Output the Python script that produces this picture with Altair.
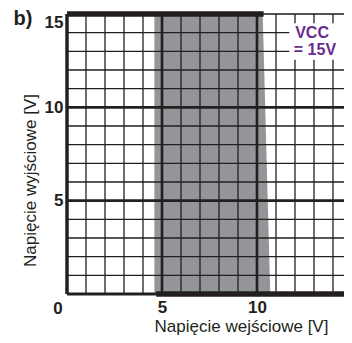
import altair as alt
import pandas as pd

# ---- data ----
x_ticks = [5, 10, 15]
y_ticks = [5, 10, 15]
minor_lines = [1, 2, 3, 4, 6, 7, 8, 9, 11, 12, 13, 14, 15]
major_lines = [5, 10]

band_y = [0, 15]
band_left = [4.6, 4.6]
band_right = [10.7, 10.3]

# thick output segments (hysteresis): high level and low level
seg_x1 = [0, 4.7]
seg_x2 = [10.35, 15]
seg_y = [15, 0]

label_lines = ["VCC", "= 15V"]
label_x = [12.9, 13.05]
label_y = [14.0, 13.05]
box_x = [11.7]
box_x2 = [14.75]
box_y = [12.55]
box_y2 = [14.5]

# plot area: 19 px per volt horizontally; page is cut at the right edge
W, H = 277, 280
xs = alt.Scale(domain=[0, 14.58], nice=False, zero=False)
ys = alt.Scale(domain=[0, 15], nice=False, zero=False)
INK = "#231f20"
FONT = "Liberation Sans"

band = alt.Chart(pd.DataFrame({"y": band_y, "l": band_left, "r": band_right})).mark_area(
    orient="horizontal", color="#939598", opacity=1
).encode(
    y=alt.Y("y:Q", scale=ys, axis=alt.Axis(
        values=y_ticks, title="Napięcie  wyjściowe [V]", grid=False, ticks=False, domain=False,
        labelFontSize=17, labelFontWeight="bold", labelFont=FONT, labelColor=INK,
        labelPadding=4,
        labelBaseline={"condition": {"test": "datum.value == 15", "value": "top"}, "value": "middle"},
        titleFont=FONT, titleFontSize=17, titleFontWeight="normal",
        titleColor=INK, titleX=-37, titleY=166, titleAngle=-90, titleAlign="center",
        titleBaseline="middle")),
    x=alt.X("l:Q", scale=xs, axis=alt.Axis(
        values=x_ticks, title="Napięcie wejściowe [V]", grid=False, ticks=False, domain=False,
        labelFontSize=17, labelFontWeight="bold", labelFont=FONT, labelColor=INK,
        labelPadding=5, titleFont=FONT, titleFontSize=17, titleFontWeight="normal",
        titleColor=INK, titleX=174, titleY=37, titleAlign="center", titleBaseline="alphabetic")),
    x2="r:Q",
)

vminor = alt.Chart(pd.DataFrame({"v": minor_lines})).mark_rule(color=INK, strokeWidth=1.3).encode(
    x=alt.X("v:Q", scale=xs))
hminor = alt.Chart(pd.DataFrame({"v": minor_lines})).mark_rule(color=INK, strokeWidth=1.3).encode(
    y=alt.Y("v:Q", scale=ys))
vmajor = alt.Chart(pd.DataFrame({"v": major_lines})).mark_rule(color=INK, strokeWidth=2.6).encode(
    x=alt.X("v:Q", scale=xs))
hmajor = alt.Chart(pd.DataFrame({"v": major_lines})).mark_rule(color=INK, strokeWidth=2.6).encode(
    y=alt.Y("v:Q", scale=ys))

left_axis = alt.Chart(pd.DataFrame({"v": [0]})).mark_rule(color=INK, strokeWidth=3.5).encode(
    x=alt.X("v:Q", scale=xs))
bottom_axis = alt.Chart(pd.DataFrame({"v": [0]})).mark_rule(color=INK, strokeWidth=3).encode(
    y=alt.Y("v:Q", scale=ys))

segs = alt.Chart(pd.DataFrame({"x1": seg_x1, "x2": seg_x2, "y": seg_y})).mark_rule(
    color=INK, strokeWidth=5.5).encode(
    x=alt.X("x1:Q", scale=xs), x2="x2:Q", y=alt.Y("y:Q", scale=ys))

box = alt.Chart(pd.DataFrame({"x": box_x, "x2": box_x2, "y": box_y, "y2": box_y2})).mark_rect(
    color="white").encode(
    x=alt.X("x:Q", scale=xs), x2="x2:Q", y=alt.Y("y:Q", scale=ys), y2="y2:Q")

label = alt.Chart(pd.DataFrame({"t": label_lines, "x": label_x, "y": label_y})).mark_text(
    font=FONT, fontSize=16, fontWeight="bold", color="#6a2b8f",
    align="center", baseline="middle").encode(
    x=alt.X("x:Q", scale=xs), y=alt.Y("y:Q", scale=ys), text="t:N")

zero = alt.Chart(pd.DataFrame({"t": ["0"]})).mark_text(
    font=FONT, fontSize=17, fontWeight="bold", color=INK,
    align="center", baseline="middle").encode(
    x=alt.value(-9), y=alt.value(H + 15), text="t:N")

blabel = alt.Chart(pd.DataFrame({"t": ["b)"]})).mark_text(
    font=FONT, fontSize=20, fontWeight="bold", color=INK,
    align="center", baseline="top").encode(
    x=alt.value(-44), y=alt.value(-5), text="t:N")

chart = alt.layer(
    band, vminor, hminor, vmajor, hmajor, left_axis, bottom_axis, segs, box, label, zero, blabel
).properties(
    width=W, height=H,
    autosize=alt.AutoSizeParams(type="none"),
    padding={"left": 59, "top": 6, "right": 0, "bottom": 41},
).configure_view(stroke=None).configure(background="white")

chart.save("out.html", embed_options={"renderer": "svg", "actions": False})
